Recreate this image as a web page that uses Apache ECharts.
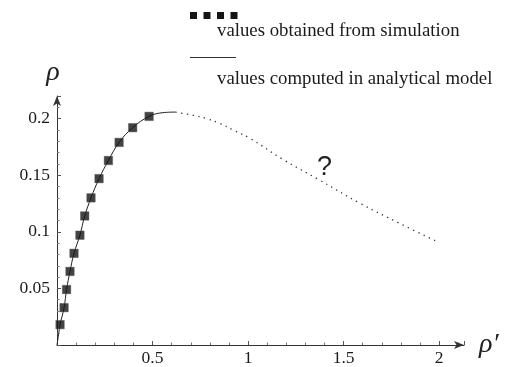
<!DOCTYPE html>
<html>
<head>
<meta charset="utf-8">
<script src="https://cdn.jsdelivr.net/npm/echarts@6/dist/echarts.min.js"></script>
<style>
html,body{margin:0;padding:0;background:#fff;}
#chart{width:507px;height:367px;}
</style>
</head>
<body>
<div id="chart"></div>
<script>
// Simulation values (rho', rho)
const simX = [0.016, 0.037, 0.050, 0.068, 0.089, 0.120, 0.145, 0.178, 0.220, 0.269, 0.325, 0.396, 0.482];
const simY = [0.018, 0.033, 0.049, 0.065, 0.081, 0.097, 0.114, 0.130, 0.147, 0.163, 0.179, 0.192, 0.202];
// Analytical model, solid part
const modelX = [0, 0.008, 0.016, 0.037, 0.050, 0.068, 0.089, 0.120, 0.145, 0.178, 0.220, 0.269, 0.325, 0.396, 0.482, 0.550, 0.620];
const modelY = [0, 0.009, 0.018, 0.033, 0.049, 0.065, 0.081, 0.097, 0.114, 0.130, 0.147, 0.163, 0.179, 0.192, 0.202, 0.2052, 0.2058];
// Analytical model, dotted extrapolation
const extX = [0.620, 0.714, 0.784, 0.853, 0.923, 1.010, 1.185, 1.368, 1.586, 1.796, 2.000];
const extY = [0.2058, 0.2029, 0.2000, 0.1957, 0.1898, 0.1826, 0.1637, 0.1463, 0.1252, 0.1072, 0.0905];
// Tick labels
const xTickLabels = ['0.5', '1', '1.5', '2'];
const yTickLabels = ['0.05', '0.1', '0.15', '0.2'];
const legendNames = ['values obtained from simulation', 'values computed in analytical model'];

const zip = (a, b) => a.map((v, i) => [v, b[i]]);
const serif = '"Liberation Serif", "DejaVu Serif", serif';

const chart = echarts.init(document.getElementById('chart'), null, {renderer: 'canvas'});

function fmt(list) {
  return function (v) {
    const s = String(Math.round(v * 1000) / 1000);
    return list.indexOf(s) >= 0 ? s : '';
  };
}

chart.setOption({
  animation: false,
  backgroundColor: '#ffffff',
  grid: {left: 57, top: 96, width: 407, height: 253, containLabel: false},
  xAxis: {
    type: 'value', min: 0, max: 2.13, interval: 0.5,
    axisLine: {show: true, onZero: true, lineStyle: {color: '#333', width: 1},
      symbol: ['none', 'arrow'], symbolSize: [6, 10]},
    axisTick: {show: true, inside: true, length: 4, lineStyle: {color: '#555'}},
    minorTick: {show: true, splitNumber: 5, length: 2.5, lineStyle: {color: '#777'}},
    splitLine: {show: false},
    axisLabel: {show: true, margin: 4, color: '#1a1a1a', fontFamily: serif, fontSize: 17.5,
      showMinLabel: false, showMaxLabel: false, formatter: fmt(xTickLabels)},
    name: 'ρ\u2032', nameLocation: 'end', nameGap: 15,
    nameTextStyle: {fontFamily: serif, fontStyle: 'italic', fontSize: 28, color: '#222',
      verticalAlign: 'middle', padding: [14, 0, 0, 0]}
  },
  yAxis: {
    type: 'value', min: 0, max: 0.22, interval: 0.05,
    axisLine: {show: true, onZero: true, lineStyle: {color: '#333', width: 1},
      symbol: ['none', 'arrow'], symbolSize: [6, 10]},
    axisTick: {show: true, inside: true, length: 4, lineStyle: {color: '#555'}},
    minorTick: {show: true, splitNumber: 5, length: 2.5, lineStyle: {color: '#777'}},
    splitLine: {show: false},
    axisLabel: {show: true, margin: 7, color: '#1a1a1a', fontFamily: serif, fontSize: 17.5,
      showMinLabel: false, showMaxLabel: false, formatter: fmt(yTickLabels)},
    name: 'ρ', nameLocation: 'end', nameGap: 9,
    nameTextStyle: {fontFamily: serif, fontStyle: 'italic', fontSize: 28, color: '#222',
      align: 'center', padding: [0, 8, 0, 0]}
  },
  series: [
    {
      name: legendNames[1], type: 'line', data: zip(modelX, modelY), smooth: 0.4,
      showSymbol: false, lineStyle: {color: '#222', width: 1}, z: 2
    },
    {
      name: legendNames[1] + ' (extrapolated)', type: 'line', data: zip(extX, extY), smooth: 0.4,
      showSymbol: false, lineStyle: {color: '#333', width: 1.3, type: [1.3, 4.5]}, z: 2
    },
    {
      name: legendNames[0], type: 'scatter', data: zip(simX, simY),
      symbol: 'rect', symbolSize: 8.5,
      itemStyle: {color: '#141414', borderColor: '#555', borderWidth: 0.5}, z: 3
    }
  ],
  graphic: [
    {type: 'rect', shape: {x: 190, y: 12, width: 7, height: 7}, style: {fill: '#141414'}},
    {type: 'rect', shape: {x: 203.5, y: 12, width: 7, height: 7}, style: {fill: '#141414'}},
    {type: 'rect', shape: {x: 217, y: 12, width: 7, height: 7}, style: {fill: '#141414'}},
    {type: 'rect', shape: {x: 230.5, y: 12, width: 7, height: 7}, style: {fill: '#141414'}},
    {type: 'text', left: 217, top: 22, style: {text: legendNames[0], font: '18.8px ' + serif, fill: '#1a1a1a'}},
    {type: 'line', shape: {x1: 190, y1: 57.5, x2: 236, y2: 57.5}, style: {stroke: '#333', lineWidth: 1}},
    {type: 'text', left: 217, top: 70, style: {text: legendNames[1], font: '18.8px ' + serif, fill: '#1a1a1a'}},
    {type: 'text', left: 317, top: 154, style: {text: '?', font: '27px "Liberation Sans", Arial, sans-serif', fill: '#222'}}
  ]
});
</script>
</body>
</html>
